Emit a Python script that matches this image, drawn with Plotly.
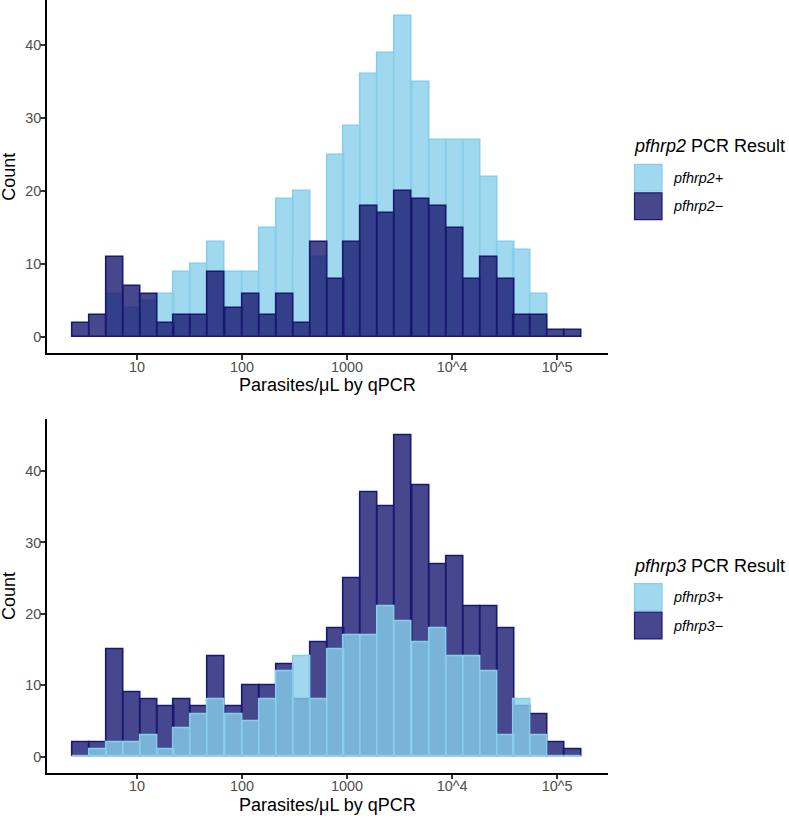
import plotly.graph_objects as go

# ---------------- data ----------------
# histogram bin centres, log10(parasites/uL)
bin_centers_log10 = [0.462, 0.624, 0.786, 0.948, 1.110, 1.272, 1.433, 1.595, 1.757, 1.919,
                     2.081, 2.243, 2.405, 2.567, 2.729, 2.891, 3.052, 3.214, 3.376, 3.538,
                     3.700, 3.862, 4.024, 4.186, 4.348, 4.510, 4.671, 4.833, 4.995, 5.157]
BIN_WIDTH = 0.1619

pfhrp2_pos = [0, 0, 6, 4, 5, 6, 9, 10, 13, 9, 9, 15, 19, 20, 11,
              25, 29, 36, 39, 44, 35, 27, 27, 27, 22, 13, 12, 6, 0, 0]
pfhrp2_neg = [2, 3, 11, 7, 6, 2, 3, 3, 9, 4, 6, 3, 6, 2, 13,
              8, 13, 18, 17, 20, 19, 18, 15, 8, 11, 8, 3, 3, 1, 1]

pfhrp3_pos = [0, 1, 2, 2, 3, 1, 4, 6, 8, 6, 5, 8, 12, 14, 8,
              15, 17, 17, 21, 19, 16, 18, 14, 14, 12, 3, 8, 3, 0, 0]
pfhrp3_neg = [2, 2, 15, 9, 8, 7, 8, 7, 14, 7, 10, 10, 13, 8, 16,
              18, 25, 37, 35, 45, 38, 27, 28, 21, 21, 18, 7, 6, 2, 1]

x_tickvals = [1, 2, 3, 4, 5]
x_ticktext = ["10", "100", "1000", "10^4", "10^5"]
y_tickvals = [0, 10, 20, 30, 40]

# ---------------- style ----------------
W, H = 789, 818
FONT = "Liberation Sans, Arial, Helvetica, sans-serif"
LIGHT_FILL = "rgba(135,206,235,0.8)"
LIGHT_LINE = "#87CEEB"
DARK_FILL = "rgba(25,25,112,0.8)"
DARK_LINE = "#191970"


def px_x(p):
    return p / W


def px_y(p):
    return 1 - p / H


def bar(y, fill, line, xa, ya, name):
    return go.Bar(x=bin_centers_log10, y=y, width=BIN_WIDTH, name=name,
                  marker=dict(color=fill, line=dict(color=line, width=1.6)),
                  xaxis=xa, yaxis=ya, showlegend=False, hoverinfo="x+y")


fig = go.Figure()
# top: positive first, negative over it
fig.add_trace(bar(pfhrp2_pos, LIGHT_FILL, LIGHT_LINE, "x", "y", "pfhrp2+"))
fig.add_trace(bar(pfhrp2_neg, DARK_FILL, DARK_LINE, "x", "y", "pfhrp2−"))
# bottom: negative first, positive over it
fig.add_trace(bar(pfhrp3_neg, DARK_FILL, DARK_LINE, "x2", "y2", "pfhrp3−"))
fig.add_trace(bar(pfhrp3_pos, LIGHT_FILL, LIGHT_LINE, "x2", "y2", "pfhrp3+"))

xdom = [px_x(46.5), px_x(607.5)]
top_dom = [px_y(353.4), 1.0]
bot_dom = [px_y(772.8), px_y(419.3)]

axis_common = dict(showline=True, linecolor="black", linewidth=1.8,
                   ticks="outside", ticklen=4.5, tickwidth=1.8, tickcolor="#333333",
                   showgrid=False, zeroline=False, automargin=False,
                   tickfont=dict(family=FONT, size=14.4, color="#4D4D4D"))

fig.update_layout(
    width=W, height=H,
    margin=dict(l=0, r=0, t=0, b=0),
    paper_bgcolor="white", plot_bgcolor="white",
    barmode="overlay", bargap=0,
    font=dict(family=FONT, color="black"),
    xaxis=dict(domain=xdom, range=[0.138, 5.481], tickvals=x_tickvals, ticktext=x_ticktext,
               anchor="y", ticklabelstandoff=-5, **axis_common),
    yaxis=dict(domain=top_dom, range=[-2.2, 46.2], tickvals=y_tickvals, anchor="x",
               ticklabelstandoff=-4, **axis_common),
    xaxis2=dict(domain=xdom, range=[0.138, 5.481], tickvals=x_tickvals, ticktext=x_ticktext,
                anchor="y2", ticklabelstandoff=-5, **axis_common),
    yaxis2=dict(domain=bot_dom, range=[-2.25, 47.25], tickvals=y_tickvals, anchor="x2",
                ticklabelstandoff=-4, **axis_common),
)

annotations = []
shapes = []

# axis titles
for panel_top, panel_bot in [(0.0, 353.4), (419.3, 772.8)]:
    annotations.append(dict(text="Count", x=px_x(9), y=px_y((panel_top + panel_bot) / 2),
                            xref="paper", yref="paper", showarrow=False, textangle=-90,
                            xanchor="center", yanchor="middle",
                            font=dict(family=FONT, size=18, color="black")))
    annotations.append(dict(text="Parasites/μL by qPCR", x=px_x(327), y=px_y(panel_bot + 32),
                            xref="paper", yref="paper", showarrow=False,
                            xanchor="center", yanchor="middle",
                            font=dict(family=FONT, size=18, color="black")))

# legends
legends = [
    (176.7, "<i>pfhrp2</i> PCR Result", ["<i>pfhrp2+</i>", "<i>pfhrp2−</i>"]),
    (596.0, "<i>pfhrp3</i> PCR Result", ["<i>pfhrp3+</i>", "<i>pfhrp3−</i>"]),
]
key_styles = [(LIGHT_FILL, LIGHT_LINE), (DARK_FILL, DARK_LINE)]
KEY = 28.4
for center, title, labels in legends:
    annotations.append(dict(text=title, x=px_x(632), y=px_y(center - 30.5),
                            xref="paper", yref="paper", showarrow=False,
                            xanchor="left", yanchor="middle",
                            font=dict(family=FONT, size=18, color="black")))
    k0 = center - 13.1
    for i, (lab, (fc, lc)) in enumerate(zip(labels, key_styles)):
        top = k0 + i * KEY
        shapes.append(dict(type="rect", xref="paper", yref="paper",
                           x0=px_x(634.5), x1=px_x(662), y0=px_y(top + KEY - 0.8), y1=px_y(top + 0.8),
                           fillcolor=fc, line=dict(color=lc, width=1.2)))
        annotations.append(dict(text=lab, x=px_x(671), y=px_y(top + KEY / 2),
                                xref="paper", yref="paper", showarrow=False,
                                xanchor="left", yanchor="middle",
                                font=dict(family=FONT, size=14.4, color="black")))

fig.update_layout(annotations=annotations, shapes=shapes)
fig.write_html("out.html", config={"displayModeBar": False},
               post_script="document.body.style.margin='0';")
